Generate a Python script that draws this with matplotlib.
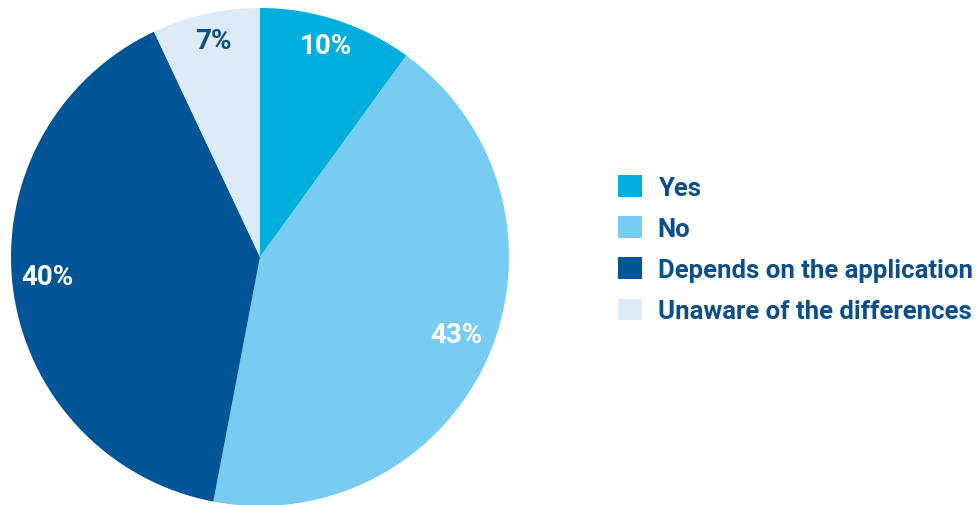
import matplotlib.pyplot as plt
from matplotlib.patches import Patch

labels = ['Yes', 'No', 'Depends on the application', 'Unaware of the differences']
shares = [10, 43, 40, 7]
colors = ['#00AEDB', '#78CBF1', '#005596', '#DDEBF7']
pct_colors = ['white', 'white', 'white', '#0B4F8A']
text_color = '#0B4F8A'
fonts = ['Roboto', 'DejaVu Sans']

W, H = 977, 506
fig = plt.figure(figsize=(W / 100, H / 100), dpi=100)
r_px = 249
cx, cy = 260, 248
ax = fig.add_axes([(cx - r_px) / W, (cy - r_px) / H, 2 * r_px / W, 2 * r_px / H])

wedges, texts, autotexts = ax.pie(
    shares, colors=colors, startangle=90, counterclock=False,
    autopct='%d%%', pctdistance=0.86, radius=1,
    wedgeprops=dict(linewidth=0))
for t, c in zip(autotexts, pct_colors):
    t.set_color(c)
    t.set_fontsize(20)
    t.set_fontweight('bold')
    t.set_family(fonts)
    t.set_va('baseline')
ax.set_xlim(-1, 1)
ax.set_ylim(-1, 1)
ax.set_aspect('equal')

handles = [Patch(facecolor=c, edgecolor='none') for c in colors]
leg = fig.legend(handles, labels, loc='upper left', bbox_to_anchor=(595 / W, 1 - 153 / H),
                 frameon=False, handlelength=0.92, handleheight=0.92, handletextpad=0.62,
                 labelspacing=0.64, prop=dict(family=fonts, weight='bold', size=18.5))
for t in leg.get_texts():
    t.set_color(text_color)

fig.savefig('out.png', dpi=100)
